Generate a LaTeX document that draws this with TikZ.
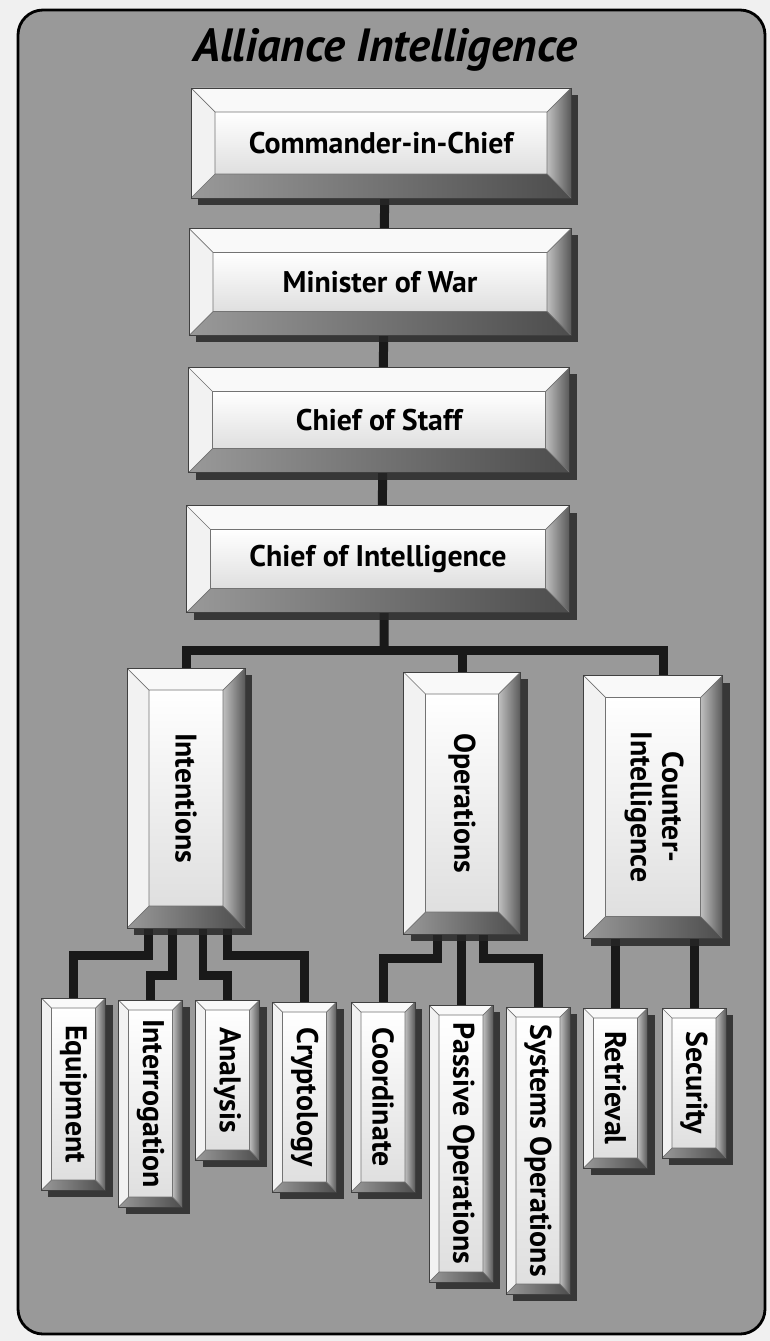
\documentclass[tikz,border=0pt]{standalone}
\usepackage{fontspec}
\setmainfont{PT Sans}
\usepackage{graphicx}
\usetikzlibrary{shadows}
\pgfdeclarelayer{background}
\pgfdeclarelayer{links}
\pgfsetlayers{background,links,main}

\newcommand\vlabel[1]{\rotatebox{-90}{#1}}

\tikzset{
  link/.style={line width=0.18cm,black!90},
  bevel/.style={
    path picture={
      \coordinate (bvA) at (path picture bounding box.north west);
      \coordinate (bvB) at (path picture bounding box.north east);
      \coordinate (bvC) at (path picture bounding box.south east);
      \coordinate (bvD) at (path picture bounding box.south west);
      \coordinate (ivA) at ([xshift=#1,yshift=-#1]bvA);
      \coordinate (ivB) at ([xshift=-#1,yshift=-#1]bvB);
      \coordinate (ivC) at ([xshift=-#1,yshift=#1]bvC);
      \coordinate (ivD) at ([xshift=#1,yshift=#1]bvD);
      \shade[top color=white,bottom color=gray!25] (ivA) rectangle (ivC);
      \fill[gray!5] (bvA) -- (bvB) -- (ivB) -- (ivA) -- cycle;
      \fill[gray!10] (bvA) -- (ivA) -- (ivD) -- (bvD) -- cycle;
      \shade[left color=gray!50,right color=black!65] (bvB) -- (bvC) -- (ivC) -- (ivB) -- cycle;
      \shade[left color=black!40,right color=black!70] (bvD) -- (ivD) -- (ivC) -- (bvC) -- cycle;
      \draw[black!55,line width=.4pt] (ivA) rectangle (ivC)
        (bvA) -- (ivA) (bvB) -- (ivB) (bvC) -- (ivC) (bvD) -- (ivD);
    }},
  box/.style n args={3}{draw=black!75,line width=.5pt,inner sep=0pt,
    minimum width=#1*0.02cm,minimum height=#2*0.02cm,bevel=#3,
    drop shadow={shadow xshift=.14cm,shadow yshift=-.14cm,fill=black!85,opacity=.85}}
}

\begin{document}
\begin{tikzpicture}[x=0.02cm,y=-0.02cm,
  every node/.append style={font=\fontsize{17}{18}\selectfont\bfseries}]
\useasboundingbox (0,0) rectangle (770,1341);
\begin{pgfonlayer}{background}
\fill[gray!12] (0,0) rectangle (770,1341);
\draw[line width=1.6pt,fill=black!40,rounded corners=0.5cm] (18,10) rectangle (765,1334);
\end{pgfonlayer}

\node (title) at (385,50) {\fontsize{26.5}{28}\selectfont\bfseries\itshape Alliance Intelligence};

\node[box={380}{110}{.48cm}] (cic) at (381,143) {Commander-in-Chief};
\node[box={382}{107}{.48cm}] (mow) at (380,282) {Minister of War};
\node[box={381}{105}{.48cm}] (cos) at (379,420) {Chief of Staff};
\node[box={383}{107}{.48cm}] (coi) at (378,559) {Chief of Intelligence};

\node[box={118}{260}{.44cm}] (intentions) at (186,798) {\vlabel{Intentions}};
\node[box={117}{262}{.44cm}] (operations) at (462,803) {\vlabel{Operations}};
\node[box={139}{263}{.44cm}] (counter) at (653,807)
  {\vlabel{\begin{tabular}{@{}c@{}}Counter-\\Intelligence\end{tabular}}};

\foreach \name/\x/\y/\h/\txt in {equipment/73.5/1094/192/Equipment,
    interrogation/150.5/1103.5/207/Interrogation,analysis/227.5/1080/160/Analysis,
    cryptology/304.5/1097/190/Cryptology,coord/383/1097/190/Coordinate,
    passive/461/1143.5/277/Passive Operations,systems/538/1150.5/287/Systems Operations,
    retrieval/615.5/1088/160/Retrieval,security/694/1083/150/Security}
  \node[box={64}{\h}{.2cm}] (\name) at (\x,\y) {\vlabel{\txt}};

\begin{pgfonlayer}{links}
\foreach \from/\to in {cic/mow,mow/cos,cos/coi}
  \draw[link] ([xshift=.08cm]\from.center) -- ([xshift=.08cm]\to.center);
\coordinate (bus) at (384,650);
\draw[link] ([xshift=.12cm]coi.center) -- (bus);
\draw[link] (intentions.center) |- (bus) -| (operations.center);
\draw[link] (bus) -| ([xshift=.2cm]counter.center);
\foreach \dx/\dy/\to in {-.76/27/equipment,-.28/47/interrogation,.34/47/analysis,.84/27/cryptology}
  \draw[link] ([xshift=\dx cm]intentions.south) -- ++(0,\dy) -| (\to.center);
\foreach \dx/\to in {-.49/coord,.43/systems}
  \draw[link] ([xshift=\dx cm]operations.south) -- ++(0,24) -| (\to.center);
\foreach \n/\up in {passive/operations,retrieval/counter,security/counter}
  \draw[link] (\n.center) -- (\n.center |- \up.center);
\end{pgfonlayer}
\end{tikzpicture}
\end{document}
